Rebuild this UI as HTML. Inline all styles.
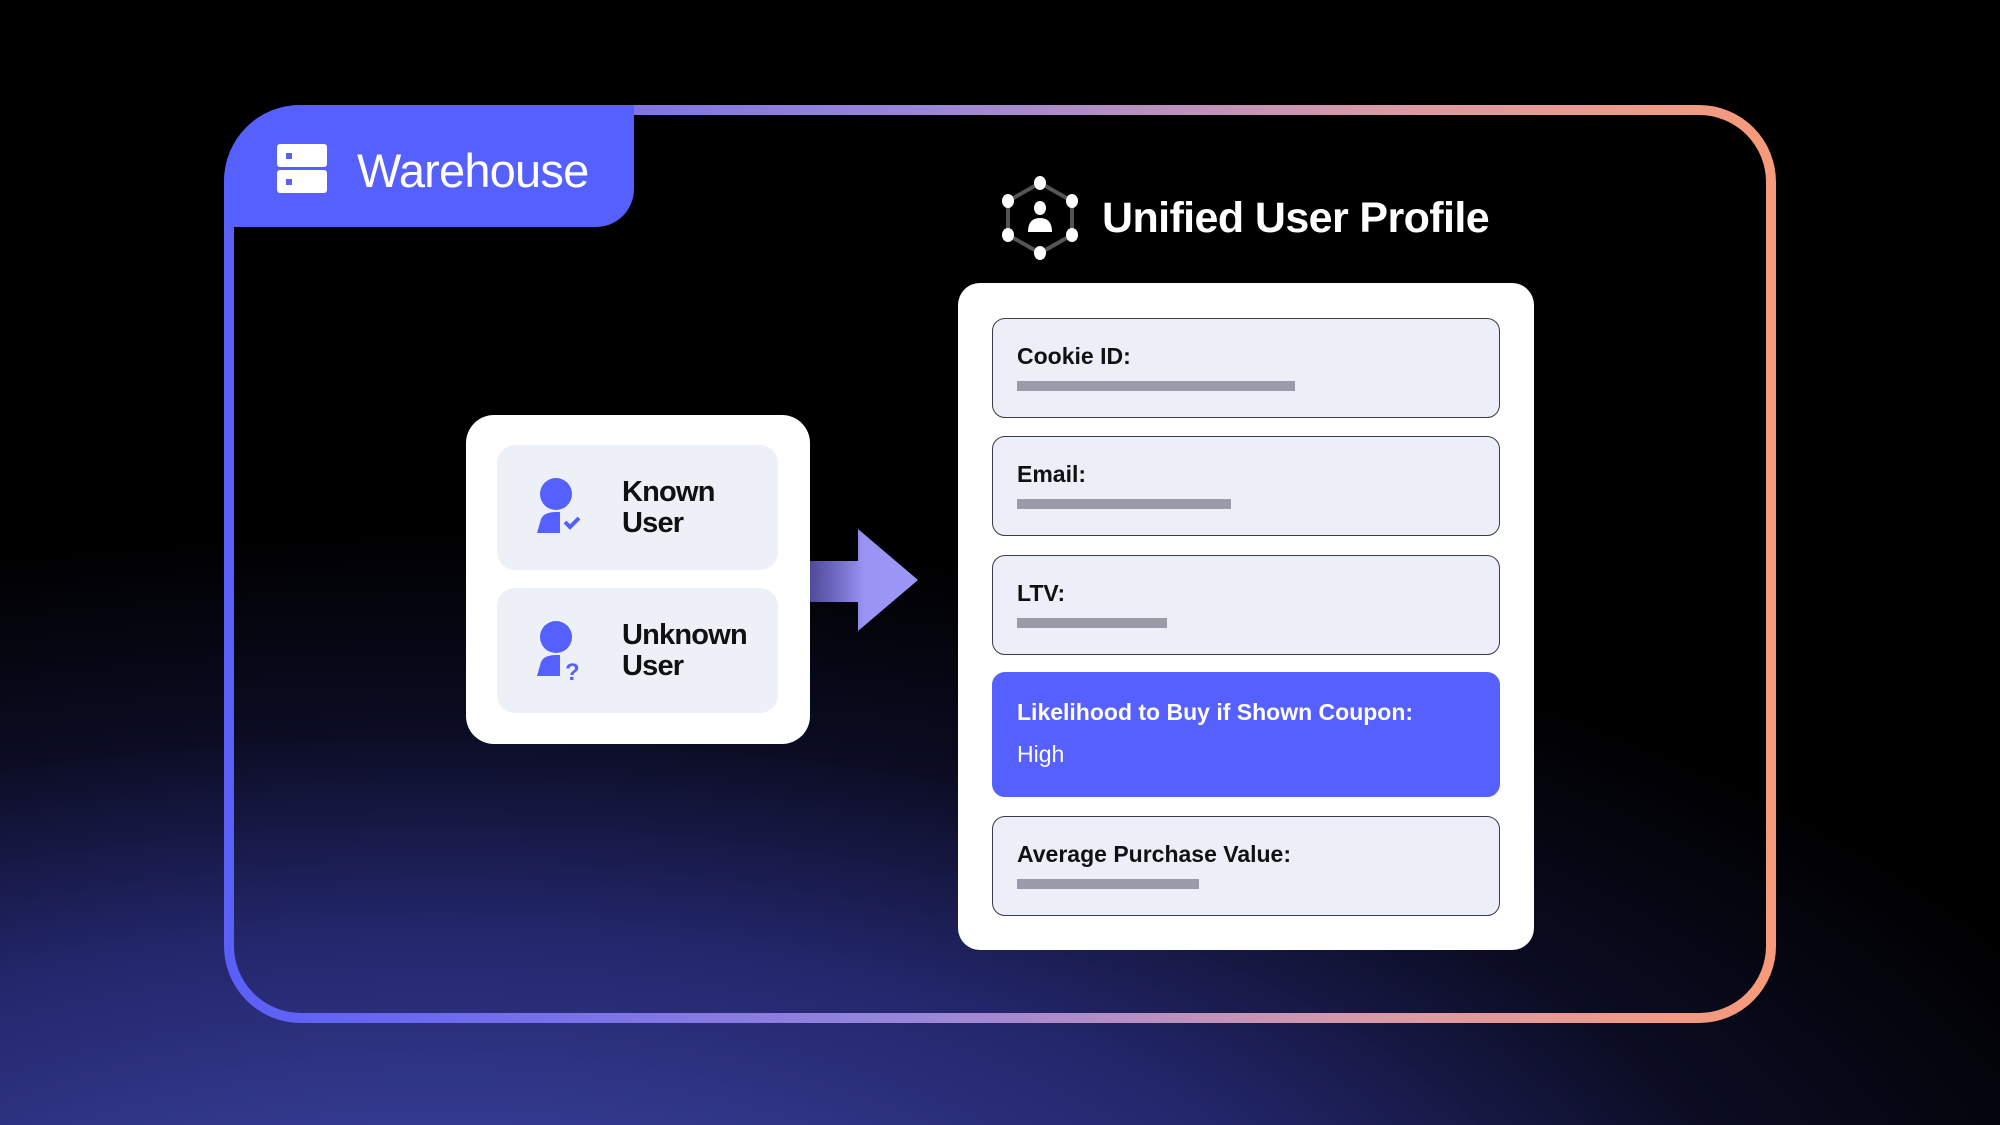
<!DOCTYPE html>
<html><head><meta charset="utf-8"><style>
*{margin:0;padding:0;box-sizing:border-box}
body{width:2000px;height:1125px;overflow:hidden;position:relative;font-family:"Liberation Sans",sans-serif;
background:radial-gradient(ellipse 1800px 800px at 22% 118%, #3d439c 0%, #343a8f 25%, #23266a 50%, #0b0c22 75%, #000 100%),#000;}
.abs{position:absolute}
.tab{left:224px;top:105px;width:410px;height:122px;background:#5660fe;border-radius:76px 0 38px 0}
.card{background:#fff;border-radius:22px}
.field{position:absolute;left:992px;width:508px;height:100px;background:#eceef8;border:1.5px solid #3a3a48;border-radius:13px}
.lbl{position:absolute;left:24px;top:24px;font-size:23px;font-weight:bold;color:#111;}
.bar{position:absolute;left:24px;top:62px;height:10px;background:#9a9aa8}
.item{position:absolute;left:31px;width:281px;height:125px;background:#eef0f8;border-radius:18px}
.it{position:absolute;left:125px;font-size:29px;font-weight:bold;line-height:31px;color:#111;letter-spacing:-0.8px}
</style></head><body>
<svg class="abs" style="left:0;top:0" width="2000" height="1125">
<defs><linearGradient id="g" x1="0" y1="0" x2="1" y2="0">
<stop offset="0" stop-color="#5a5ff8"/><stop offset="0.45" stop-color="#9a86d8"/><stop offset="0.75" stop-color="#d99aa6"/><stop offset="1" stop-color="#f79a7a"/></linearGradient>
<linearGradient id="ag" x1="0" y1="0" x2="1" y2="0"><stop offset="0" stop-color="#6f6ad8" stop-opacity="0.7"/><stop offset="0.5" stop-color="#9a94f4"/><stop offset="1" stop-color="#9c96f8"/></linearGradient></defs>
<rect x="229" y="110" width="1542" height="908" rx="72" fill="none" stroke="url(#g)" stroke-width="10"/>
<path d="M810 561 H858 V529 L918 580 L858 631 V602 H810 Z" fill="url(#ag)"/>
</svg>
<div class="abs tab"></div>
<div class="abs" style="left:277px;top:144px;width:50px;height:23px;background:#fff;border-radius:3px"></div>
<div class="abs" style="left:277px;top:170px;width:50px;height:23px;background:#fff;border-radius:3px"></div>
<div class="abs" style="left:286px;top:153px;width:6px;height:6px;background:#5660fe"></div>
<div class="abs" style="left:286px;top:179px;width:6px;height:6px;background:#5660fe"></div>
<div class="abs" style="left:357px;top:141px;font-size:47px;color:#fff;line-height:60px;letter-spacing:-0.8px">Warehouse</div>

<svg class="abs" style="left:995px;top:172px" width="90" height="92" viewBox="0 0 90 92">
<polygon points="45,11 77,29 77,63 45,81 13,63 13,29" fill="none" stroke="#555" stroke-width="4"/>
<g fill="#fff"><ellipse cx="45" cy="11" rx="6" ry="7"/><ellipse cx="77" cy="29" rx="6" ry="7"/><ellipse cx="77" cy="63" rx="6" ry="7"/><ellipse cx="45" cy="81" rx="6" ry="7"/><ellipse cx="13" cy="63" rx="6" ry="7"/><ellipse cx="13" cy="29" rx="6" ry="7"/>
<ellipse cx="45" cy="36" rx="6" ry="7"/><path d="M33 60 Q33 46 45 46 Q57 46 57 60 Z"/></g></svg>
<div class="abs" style="left:1102px;top:192px;font-size:43px;font-weight:bold;color:#fff;line-height:52px;letter-spacing:-0.6px">Unified User Profile</div>

<div class="abs card" style="left:958px;top:283px;width:576px;height:667px"></div>
<div class="field" style="top:318px"><div class="lbl">Cookie ID:</div><div class="bar" style="width:278px"></div></div>
<div class="field" style="top:436px"><div class="lbl">Email:</div><div class="bar" style="width:214px"></div></div>
<div class="field" style="top:555px"><div class="lbl">LTV:</div><div class="bar" style="width:150px"></div></div>
<div class="field" style="top:672px;height:125px;background:#5660fe;border-color:#5660fe"><div class="lbl" style="color:#fff;top:26px">Likelihood to Buy if Shown Coupon:</div><div class="lbl" style="color:#fff;top:68px;font-weight:normal">High</div></div>
<div class="field" style="top:816px"><div class="lbl">Average Purchase Value:</div><div class="bar" style="width:182px"></div></div>

<div class="abs card" style="left:466px;top:415px;width:344px;height:329px;border-radius:28px">
<div class="item" style="top:30px">
<svg class="abs" style="left:35px;top:32px" width="55" height="60"><circle cx="24" cy="17" r="16" fill="#5660fe"/><path d="M5 56 L9 42 Q12 35 24 35 L28 35 L28 56 Z" fill="#5660fe"/><path d="M33 45 L38 50 L47 41" fill="none" stroke="#5660fe" stroke-width="4"/></svg>
<div class="it" style="top:32px">Known<br>User</div></div>
<div class="item" style="top:173px">
<svg class="abs" style="left:35px;top:32px" width="55" height="62"><circle cx="24" cy="17" r="16" fill="#5660fe"/><path d="M5 56 L9 42 Q12 35 24 35 L28 35 L28 56 Z" fill="#5660fe"/><text x="33" y="60" font-size="24" font-weight="bold" fill="#5660fe" font-family="Liberation Sans,sans-serif">?</text></svg>
<div class="it" style="top:32px">Unknown<br>User</div></div>
</div>
</body></html>
